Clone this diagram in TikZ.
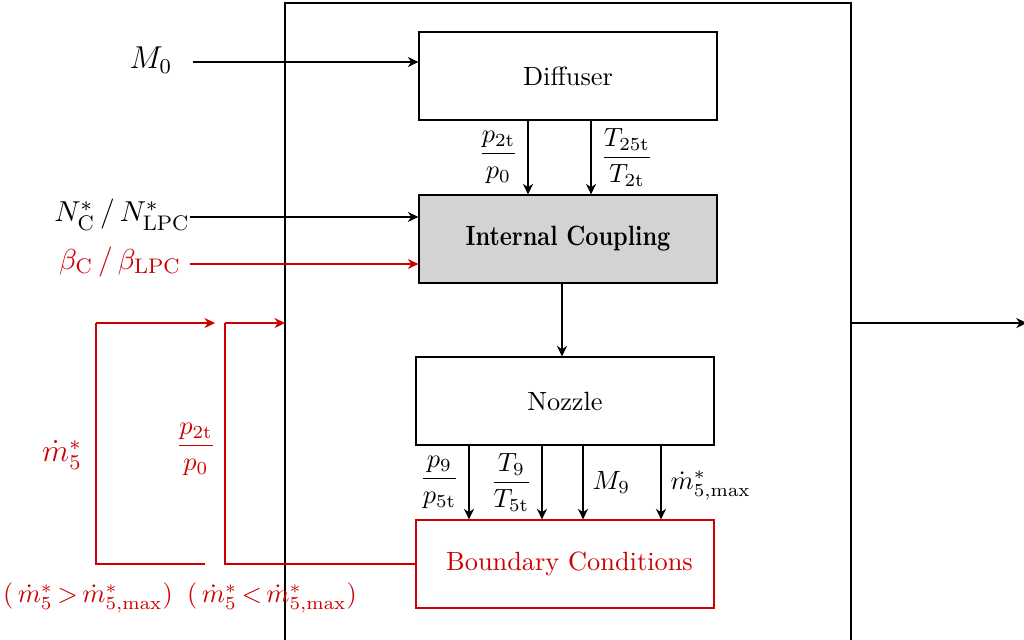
\documentclass[tikz,border=0pt]{standalone}
\usepackage{amsmath,amssymb}
\usepackage{graphicx}
\usepackage{xcolor}
\usepackage{tikz}
\usetikzlibrary{positioning,arrows.meta,calc}
\definecolor{loopred}{RGB}{204,0,0}
\definecolor{blockgray}{RGB}{211,211,211}
\tikzset{
  block-node/.style={draw=black, line width=0.55pt, minimum width=3.97cm,
    minimum height=1.17cm, align=center, inner sep=3pt},
  coupling-node/.style={block-node, fill=blockgray, font=\bfseries},
  boundary-node/.style={block-node, draw=loopred, text=loopred},
  flow-arrow/.style={-{Stealth[length=4pt, width=3.8pt]}, line width=0.7pt, draw=black},
  red-arrow/.style={-{Stealth[length=4pt, width=3.8pt]}, line width=0.7pt, draw=loopred},
  red-line/.style={line width=0.7pt, draw=loopred},
  sig-label/.style={inner sep=3pt},
  red-label/.style={inner sep=3pt, text=loopred},
  input-font/.style={font=\fontsize{11.4}{13}\selectfont}
}
\begin{document}
\begin{tikzpicture}
\clip (0,0) rectangle (13.653,8.52);
% outer system box
\draw[line width=0.55pt] (3.8,-1) rectangle (11.347,8.48);
% blocks
\node[block-node] (diffuser) at (7.573,7.507) {Diffuser};
\node[coupling-node] (coupling) at (7.573,5.333) {\scalebox{0.87}[1.06]{Internal Coupling}};
\node[block-node] (nozzle) at (7.533,3.173) {Nozzle};
\node[boundary-node] (boundary) at (7.533,1.0) {\hspace{0.12cm}Boundary Conditions};
% inputs
\coordinate (m0in) at (2.573,7.693);
\coordinate (nin) at (2.533,5.627);
\coordinate (betain) at (2.533,5.0);
\node[sig-label, font=\large] (m0) at (2.013,7.72) {$M_0$};
\node[sig-label, input-font] (nlabel) at (1.627,5.653) {$N_\mathrm{C}^*$\,/\,$N_\mathrm{LPC}^*$};
\node[red-label, input-font] (betalabel) at (1.6,5.027) {$\beta_\mathrm{C}$\,/\,$\beta_\mathrm{LPC}$};
\draw[flow-arrow] (m0in) -- (m0in -| diffuser.west);
\draw[flow-arrow] (nin) -- (nin -| coupling.west);
\draw[red-arrow] (betain) -- (betain -| coupling.west);
% diffuser to coupling
\draw[flow-arrow] ([xshift=-0.533cm]diffuser.south) -- node[left] {$\dfrac{p_\mathrm{2t}}{p_0}$} ([xshift=-0.533cm]coupling.north);
\draw[flow-arrow] ([xshift=0.307cm]diffuser.south) -- node[right] {$\dfrac{T_\mathrm{25t}}{T_\mathrm{2t}}$} ([xshift=0.307cm]coupling.north);
% coupling to nozzle
\draw[flow-arrow] ([xshift=-0.04cm]coupling.south -| nozzle.north) -- ([xshift=-0.04cm]nozzle.north);
% nozzle to boundary
\draw[flow-arrow] ([xshift=-1.28cm]nozzle.south) -- node[left] {$\dfrac{p_9}{p_\mathrm{5t}}$} ([xshift=-1.28cm]boundary.north);
\draw[flow-arrow] ([xshift=-0.307cm]nozzle.south) -- node[left] {$\dfrac{T_9}{T_\mathrm{5t}}$} ([xshift=-0.307cm]boundary.north);
\draw[flow-arrow] ([xshift=0.24cm]nozzle.south) -- node[right] {$M_9$} ([xshift=0.24cm]boundary.north);
\draw[flow-arrow] ([xshift=1.28cm]nozzle.south) -- node[right, yshift=-0.04cm] {$\dot{m}_{5,\max}^*$} ([xshift=1.28cm]boundary.north);
% output
\coordinate (outend) at (13.69,4.213);
\draw[flow-arrow] (11.347,4.213) -- (outend);
% feedback loops
\coordinate (loopAstart) at (2.733,1.0);
\coordinate (loopAcorner) at (1.28,4.213);
\coordinate (loopAend) at (2.867,4.213);
\coordinate (loopBcorner) at (3.0,4.213);
\coordinate (loopBend) at (3.8,4.213);
\draw[red-line] (loopAstart) -| (loopAcorner);
\draw[red-arrow] (loopAcorner) -- (loopAend);
\draw[red-line] (boundary.west) -| (loopBcorner);
\draw[red-arrow] (loopBcorner) -- (loopBend);
\node[red-label, font=\large] (mdotlabel) at (0.827,2.453) {$\dot{m}_5^*$};
\node[red-label] (ratiolabel) at (2.613,2.533) {$\dfrac{p_\mathrm{2t}}{p_0}$};
\node[red-label] (condA) at (1.173,0.547) {$(\,\dot{m}_5^*\,{>}\,\dot{m}_{5,\max}^*)$};
\node[red-label] (condB) at (3.627,0.547) {$(\,\dot{m}_5^*\,{<}\,\dot{m}_{5,\max}^*)$};
\end{tikzpicture}
\end{document}
